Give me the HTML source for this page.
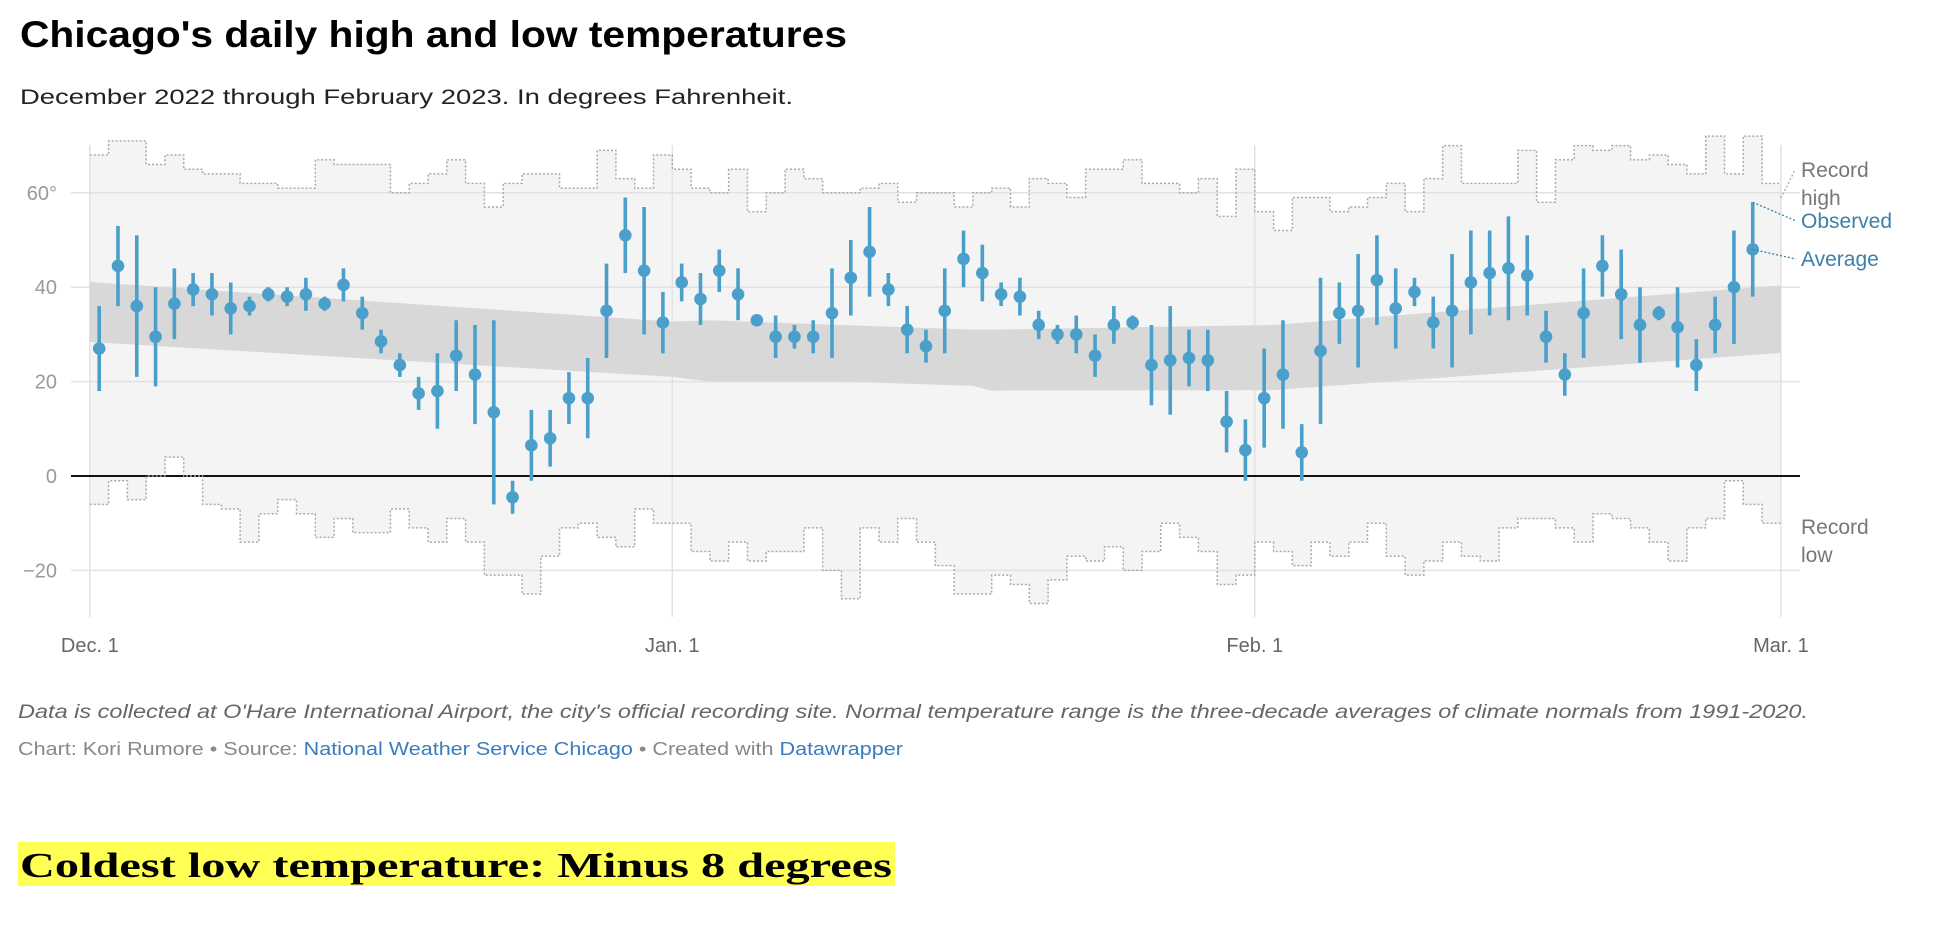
<!DOCTYPE html>
<html><head><meta charset="utf-8"><style>
html,body{margin:0;padding:0;background:#fff;}
svg{display:block;font-family:"Liberation Sans",sans-serif;}
</style></head><body>
<svg id="chart" width="1956" height="926" viewBox="0 0 1956 926" xmlns="http://www.w3.org/2000/svg">
<text x="20" y="47" font-size="37" font-weight="bold" fill="#000" textLength="827" lengthAdjust="spacingAndGlyphs">Chicago's daily high and low temperatures</text>
<text x="20" y="104" font-size="21" fill="#222" textLength="773" lengthAdjust="spacingAndGlyphs">December 2022 through February 2023. In degrees Fahrenheit.</text>
<g id="plot"></g>
<text x="18" y="718" font-size="19" font-style="italic" fill="#666" textLength="1790" lengthAdjust="spacingAndGlyphs">Data is collected at O'Hare International Airport, the city's official recording site. Normal temperature range is the three-decade averages of climate normals from 1991-2020.</text>
<text x="18" y="755" font-size="18" fill="#888" textLength="885" lengthAdjust="spacingAndGlyphs">Chart: Kori Rumore • Source: <tspan fill="#3b7bbf">National Weather Service Chicago</tspan> • Created with <tspan fill="#3b7bbf">Datawrapper</tspan></text>
<rect x="18" y="842" width="877" height="44" fill="#ffff55"/>
<text x="20" y="877" font-family="'Liberation Serif',serif" font-size="35" font-weight="bold" fill="#000" textLength="872" lengthAdjust="spacingAndGlyphs">Coldest low temperature: Minus 8 degrees</text>
</svg>
<script>
const obsHigh=[36,53,51,40,44,43,43,41,38,40,40,42,38,44,38,31,26,21,26,33,32,33,-1,14,14,22,25,45,59,57,39,
45,43,48,44,34,34,32,33,44,50,57,43,36,31,44,52,49,41,42,35,32,34,30,36,34,32,36,31,31,18,12,
27,33,11,42,41,47,51,44,42,38,47,52,52,55,51,35,26,44,51,48,40,36,40,29,38,52,58];
const obsAvg=[27,44.5,36,29.5,36.5,39.5,38.5,35.5,36,38.5,38,38.5,36.5,40.5,34.5,28.5,23.5,17.5,18,25.5,21.5,13.5,-4.5,6.5,8,16.5,16.5,35,51,43.5,32.5,
41,37.5,43.5,38.5,33,29.5,29.5,29.5,34.5,42,47.5,39.5,31,27.5,35,46,43,38.5,38,32,30,30,25.5,32,32.5,23.5,24.5,25,24.5,11.5,5.5,
16.5,21.5,5,26.5,34.5,35,41.5,35.5,39,32.5,35,41,43,44,42.5,29.5,21.5,34.5,44.5,38.5,32,34.5,31.5,23.5,32,40,48];
const obsLow=[18,36,21,19,29,36,34,30,34,37,36,35,35,37,31,26,21,14,10,18,11,-6,-8,-1,2,11,8,25,43,30,26,
37,32,39,33,32,25,27,26,25,34,38,36,26,24,26,40,37,36,34,29,28,26,21,28,31,15,13,19,18,5,-1,
6,10,-1,11,28,23,32,27,36,27,23,30,34,33,34,24,17,25,38,29,24,33,23,18,26,28,38];
const recordHigh=[68,71,71,66,68,65,64,64,62,62,61,61,67,66,66,66,60,62,64,67,62,57,62,64,64,61,61,69,63,61,68,
65,61,60,65,56,60,65,63,60,60,61,62,58,60,60,57,60,61,57,63,62,59,65,65,67,62,62,60,63,55,65,
56,52,59,59,56,57,59,62,56,63,70,62,62,62,69,58,67,70,69,70,67,68,66,64,72,64,72,62];
const recordLow=[-6,-1,-5,0,4,0,-6,-7,-14,-8,-5,-8,-13,-9,-12,-12,-7,-11,-14,-9,-14,-21,-21,-25,-17,-11,-10,-13,-15,-7,-10,
-10,-16,-18,-14,-18,-16,-16,-11,-20,-26,-11,-14,-9,-14,-19,-25,-25,-21,-23,-27,-22,-17,-18,-15,-20,-16,-10,-13,-16,-23,-21,
-14,-16,-19,-14,-17,-14,-10,-17,-21,-18,-14,-17,-18,-11,-9,-9,-11,-14,-8,-9,-11,-14,-18,-11,-9,-1,-6,-10];
const normalDays=[0,31,33,40,47,48,63,90];
const normalHighs=[41.1,32.7,33,32,31,31,32,40.4];
const normalLows=[28.4,21,20,20,19.1,18.1,18.2,26.1];
const yTicks=[60,40,20,0,-20];
const yTickLabels=["60°","40","20","0","−20"];
const monthDays=[0,31,62,90];
const monthLabels=["Dec. 1","Jan. 1","Feb. 1","Mar. 1"];

const NS="http://www.w3.org/2000/svg";
const plot=document.getElementById('plot');
const X=d=>89.8+18.79*d;
const Y=v=>476-4.72*v;
function mk(tag,attrs,parent){const e=document.createElementNS(NS,tag);for(const k in attrs)e.setAttribute(k,attrs[k]);(parent||plot).appendChild(e);return e;}

// record band fill
let hp="M"+X(0)+","+Y(recordHigh[0]);
recordHigh.forEach((v,i)=>{hp+=" V"+Y(v)+" H"+X(i+1);});
let lp="";
for(let i=recordLow.length-1;i>=0;i--){lp+=" V"+Y(recordLow[i])+" H"+X(i);}
const band=mk('path',{d:hp+lp+" Z",fill:"#f4f4f4"});



// gridlines
yTicks.forEach((t,i)=>{
  const g=mk('line',{x1:71,x2:1800,y1:Y(t),y2:Y(t),stroke:t===0?"#111":"#e2e2e2","stroke-width":t===0?2:1.5});
  
  
  const tx=mk('text',{x:57,y:Y(t)+7,"text-anchor":"end","font-size":20,fill:"#999"});
  tx.textContent=yTickLabels[i];
  
  
});
monthDays.forEach((d,i)=>{
  const g=mk('line',{x1:X(d),x2:X(d),y1:145,y2:617,stroke:"#e2e2e2","stroke-width":1.5});
  
  
  const tx=mk('text',{x:X(d),y:652,"text-anchor":"middle","font-size":20,fill:"#666"});
  tx.textContent=monthLabels[i];
  
  
});

// normal band
let np="";
normalDays.forEach((d,i)=>{np+=(i?" L":"M")+X(d)+","+Y(normalHighs[i]);});
for(let i=normalDays.length-1;i>=0;i--){np+=" L"+X(normalDays[i])+","+Y(normalLows[i]);}
const nb=mk('path',{d:np+" Z",fill:"#d8d8d8"});



// zero line on top of band
const z=mk('line',{x1:71,x2:1800,y1:Y(0),y2:Y(0),stroke:"#111","stroke-width":2});



// record step lines
let hs="M"+X(0)+","+Y(recordHigh[0]);
recordHigh.forEach((v,i)=>{hs+=" V"+Y(v)+" H"+X(i+1);});
const rh=mk('path',{d:hs,fill:"none",stroke:"#aaa","stroke-width":1.5,"stroke-dasharray":"2,2"});


let ls="M"+X(0)+","+Y(recordLow[0]);
recordLow.forEach((v,i)=>{ls+=" V"+Y(v)+" H"+X(i+1);});
const rl=mk('path',{d:ls,fill:"none",stroke:"#aaa","stroke-width":1.5,"stroke-dasharray":"2,2"});



// observed bars
obsHigh.forEach((h,i)=>{
  const cx=X(i+0.5);
  const b=mk('line',{x1:cx,x2:cx,y1:Y(h),y2:Y(obsLow[i]),stroke:"#4a9fcb","stroke-width":3.6});
  
  
  const c=mk('circle',{cx:cx,cy:Y(obsAvg[i]),r:6.3,fill:"#4a9fcb"});
  
  
});

// annotations
const last=obsHigh.length-1;
const lx=X(last+0.5);
const a1=mk('path',{d:`M${X(90)},198 L1795,170`,stroke:"#aaa","stroke-dasharray":"2,2",fill:"none","stroke-width":1.3});


const a2=mk('path',{d:`M${lx},${Y(obsHigh[last])} L1796,221`,stroke:"#3e7fa8","stroke-dasharray":"2,2",fill:"none","stroke-width":1.3});


const a3=mk('path',{d:`M${lx},${Y(obsAvg[last])} L1796,259`,stroke:"#3e7fa8","stroke-dasharray":"2,2",fill:"none","stroke-width":1.3});


const labels=[["Record",1801,177,"#777","record-high-label"],["high",1801,205,"#777","record-high-label"],["Observed",1801,228,"#3e7fa8","observed-label"],["Average",1801,266,"#3e7fa8","average-label"],["Record",1801,534,"#777","record-low-label"],["low",1801,562,"#777","record-low-label"]];
labels.forEach(l=>{
  const t=mk('text',{x:l[1],y:l[2],"font-size":21,fill:l[3]});
  t.textContent=l[0];
  
  
});
</script>
</body></html>
